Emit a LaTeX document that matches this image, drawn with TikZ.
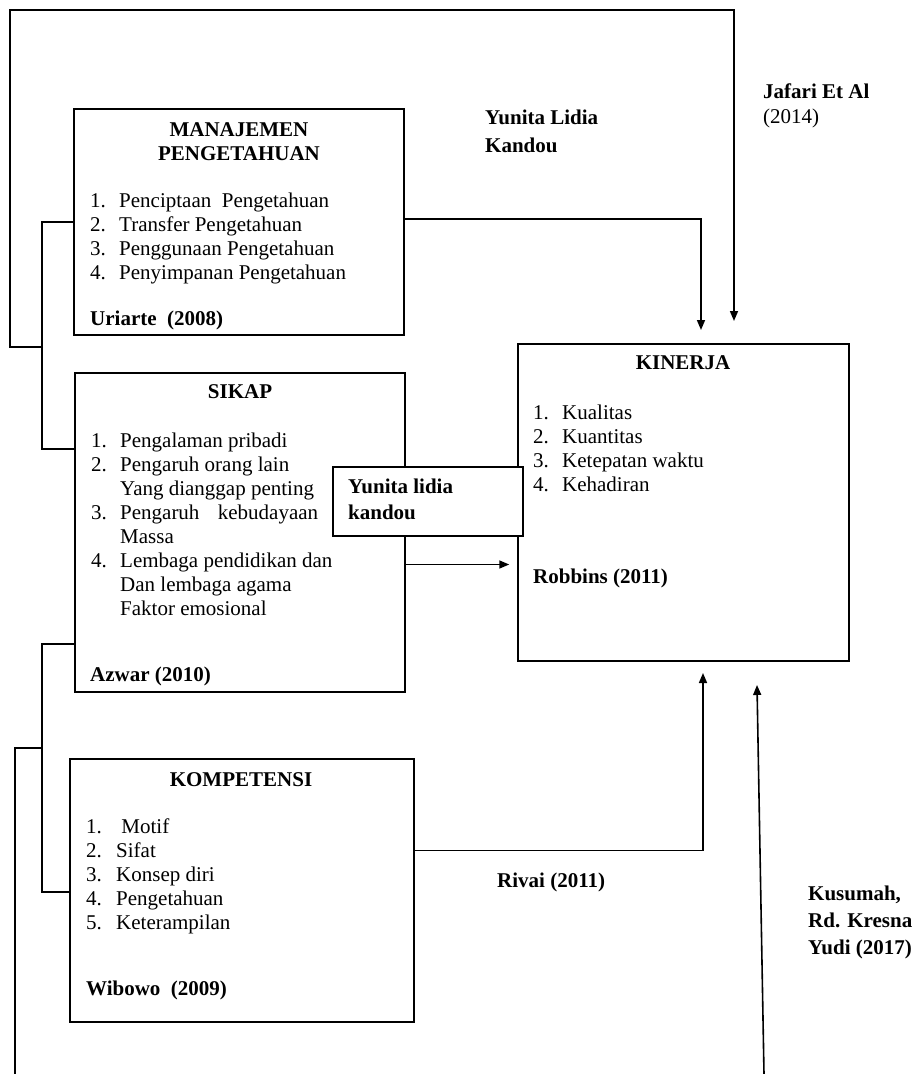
\documentclass[tikz,border=0pt]{standalone}
\usepackage{fontspec}
\setmainfont{Liberation Serif}
\usetikzlibrary{arrows.meta,positioning,calc}

\newcommand{\numlist}[2][29pt]{\begin{tabular}[t]{@{}p{#1}@{}l@{}}#2\end{tabular}}

\begin{document}
\begin{tikzpicture}[
      x=1pt,y=-1pt,
      font=\fontsize{21}{24}\selectfont,
      varbox/.style={rectangle,draw=black,line width=1.5pt,inner sep=0pt},
      title/.style={inner sep=0pt,anchor=north,align=center,font=\fontsize{21}{24}\selectfont\bfseries},
      txt/.style={inner sep=0pt,anchor=north west,align=left},
      cite/.style={inner sep=0pt,anchor=west,font=\fontsize{21}{24}\selectfont\bfseries},
      source/.style={txt,font=\fontsize{21}{#1}\selectfont\bfseries},
      line/.style={draw=black,line width=1.6pt},
      arrow/.style={line,-{Triangle[length=10pt,width=8pt]}},
    ]
    \useasboundingbox (0,0) rectangle (914,1074);

    % Variable boxes
    \node[varbox,minimum width=330pt,minimum height=226pt] (mp) at (239,222) {};
    \node[varbox,minimum width=330pt,minimum height=319pt] (sikap) at (240,532.5) {};
    \node[varbox,minimum width=331pt,minimum height=317pt] (kin) at (683.5,502.5) {};
    \node[varbox,minimum width=344pt,minimum height=263pt] (komp) at (242,890.5) {};

    % Box contents
    \node[title] (mptitle) at (239,122) {MANAJEMEN\\PENGETAHUAN};
    \node[txt] (mplist) at (90,190) {\numlist{1. & Penciptaan\ \ Pengetahuan\\
      2. & Transfer Pengetahuan\\ 3. & Penggunaan Pengetahuan\\
      4. & Penyimpanan Pengetahuan}};
    \node[cite] (mpcite) at (90,320) {Uriarte\ \ (2008)};

    \node[title] (sikaptitle) at (240,384) {SIKAP};
    \node[txt] (sikaplist) at (91,430) {\numlist{1. & Pengalaman pribadi\\
      2. & Pengaruh orang lain\\ & Yang dianggap penting\\
      3. & \makebox[198pt][s]{Pengaruh kebudayaan}\\ & Massa\\
      4. & Lembaga pendidikan dan\\ & Dan lembaga agama\\ & Faktor emosional}};
    \node[cite] (sikapcite) at (90,676) {Azwar (2010)};

    \node[title] (kintitle) at (683,355) {KINERJA};
    \node[txt] (kinlist) at (533,402) {\numlist{1. & Kualitas\\ 2. & Kuantitas\\
      3. & Ketepatan waktu\\ 4. & Kehadiran}};
    \node[cite] (kincite) at (533,578) {Robbins (2011)};

    \node[title] (komptitle) at (241,772) {KOMPETENSI};
    \node[txt] (komplist) at (86,816) {\numlist[30pt]{1. & \ Motif\\ 2. & Sifat\\
      3. & Konsep diri\\ 4. & Pengetahuan\\ 5. & Keterampilan}};
    \node[cite] (kompcite) at (86,990) {Wibowo\ \ (2009)};

    % Junctions and free ends
    \coordinate (upjoin) at (43,347);
    \coordinate (loopl) at (10,10);
    \coordinate (jafin) at (734,321);
    \coordinate (mpin) at (701,330);
    \coordinate (lowjoin) at (43,748);
    \coordinate (lowfoot) at (15,1074);
    \coordinate (kinlow) at (703,673);
    \coordinate (kusfoot) at (764,1074);
    \coordinate (kusin) at (757,685);

    % Brackets on the left
    \draw[line] (mp.west) -- ++(-31,0) |- ($(sikap.north west)+(0,77)$);
    \draw[line] ($(sikap.south west)+(0,-49)$) -- ++(-32,0) |- ($(komp.north west)+(0,134)$);
    \draw[line] (lowfoot) |- (lowjoin);

    % Connectors to KINERJA
    \draw[arrow] (upjoin) -| (loopl) -| (jafin);
    \draw[arrow] ($(mp.east)+(0,-3)$) -| (mpin);
    \draw[arrow,shorten >=8pt] ($(sikap.east)+(0,32)$) -- ($(kin.west)+(0,62)$);
    \draw[arrow] ($(komp.east)+(0,-40)$) -| (kinlow);
    \draw[arrow] (kusfoot) -- (kusin);

    % Box over the SIKAP link
    \node[varbox,fill=white,minimum width=190pt,minimum height=69pt] (yunbox) at (428,501.5) {};
    \node[source=26pt] (yuntext) at (348,479) {Yunita lidia\\kandou};

    % Source labels
    \node[source=28pt] (yunlabel) at (485,110) {Yunita Lidia\\Kandou};
    \node[txt,font=\fontsize{21}{25}\selectfont] (jaflabel) at (763,84) {\textbf{Jafari Et Al}\\(2014)};
    \node[cite] (rivlabel) at (497,882) {Rivai (2011)};
    \node[source=27pt] (kuslabel) at (808,886) {Kusumah,\\Rd. Kresna\\Yudi (2017)};

  \end{tikzpicture}
\end{document}
